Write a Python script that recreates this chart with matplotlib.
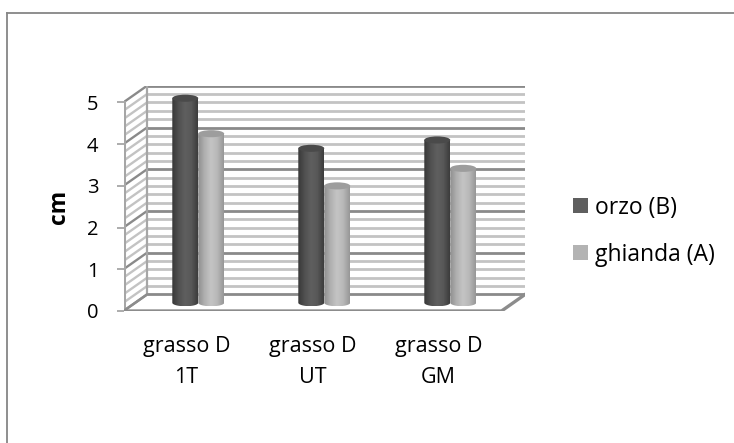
import numpy as np
import matplotlib
matplotlib.use("Agg")
import matplotlib.pyplot as plt
from matplotlib.colors import LinearSegmentedColormap
from matplotlib.patches import Polygon, Ellipse, Patch
from matplotlib.lines import Line2D

plt.rcParams['font.family'] = ['Open Sans', 'DejaVu Sans']

# dati
categorie = ['grasso D\n1T', 'grasso D\nUT', 'grasso D\nGM']
orzo = [4.9, 3.7, 3.9]
ghianda = [4.05, 2.8, 3.22]
serie = ['orzo (B)', 'ghianda (A)']

# profondita' della vista 3D (in unita' dei dati)
dx = 0.1864
dy = 0.3953
larg = 0.206      # larghezza cilindro
ry = 0.085        # semiasse verticale dell'ellisse

fig = plt.figure(figsize=(7.34, 4.43), dpi=100)
ax = fig.add_axes([0.16826, 0.29797, 0.5470, 0.50835])
ax.set_xlim(0, 3 + dx)
ax.set_ylim(0, 5 + dy)
for s in ax.spines.values():
    s.set_visible(False)

# griglia: parete di fondo e parete sinistra
valori = np.round(np.arange(0, 5.001, 0.2), 1)
for v in valori:
    maggiore = abs(v - round(v)) < 1e-6
    col = '#8a8a8a' if maggiore else '#c3c3c3'
    ax.plot([dx, 3 + dx], [v + dy, v + dy], color=col, lw=2.0,
            solid_capstyle='butt', zorder=1)
    ax.plot([0, dx], [v, v + dy], color=col, lw=1.7, zorder=1)

# bordi delle pareti e del pavimento
ax.plot([dx, dx], [dy, 5 + dy], color='#a6a6a6', lw=1.6, zorder=1)
ax.plot([0, 0], [0, 5], color='#a6a6a6', lw=2.2, zorder=2)
ax.plot([0, 3, 3 + dx], [0, 0, dy], color='#8c8c8c', lw=2.4,
        solid_joinstyle='miter', zorder=2)
ax.plot([0, dx], [0, dy], color='#8c8c8c', lw=1.8, zorder=2)


def cilindro(xc, h, colori, col_top, z):
    x0, x1 = xc - larg / 2, xc + larg / 2
    y0, y1 = dy / 2, h + dy / 2
    cmap = LinearSegmentedColormap.from_list('c', colori)
    grad = np.linspace(0, 1, 64).reshape(1, -1)
    im = ax.imshow(grad, extent=[x0, x1, y0 - ry, y1], aspect='auto',
                   cmap=cmap, interpolation='bilinear', zorder=z, origin='lower')
    t = np.linspace(np.pi, 2 * np.pi, 40)
    pts = [(x0, y1), (x0, y0)]
    pts += list(zip(xc + larg / 2 * np.cos(t), y0 + ry * np.sin(t)))
    pts += [(x1, y0), (x1, y1)]
    clip = Polygon(pts, closed=True, transform=ax.transData)
    im.set_clip_path(clip)
    ax.add_patch(Ellipse((xc, y1), larg, 2 * ry, facecolor=col_top,
                         edgecolor='none', zorder=z + 0.5))


scuro = ['#383838', '#505050', '#5f5f5f', '#585858', '#3c3c3c']
chiaro = ['#8f8f8f', '#b0b0b0', '#c4c4c4', '#b8b8b8', '#979797']
for i in range(len(categorie)):
    xc = i + 0.5 + dx / 2
    cilindro(xc - larg / 2, orzo[i], scuro, '#4a4a4a', 3 + i)
    cilindro(xc + larg / 2, ghianda[i], chiaro, '#9d9d9d', 3.2 + i)

ax.set_xlim(0, 3 + dx)
ax.set_ylim(0, 5 + dy)

# assi
ax.set_yticks(range(6))
ax.tick_params(axis='y', length=5, width=1.3, color='#a6a6a6', pad=13,
               labelsize=14.5, labelcolor='#000000')
ax.set_xticks([0.5, 1.5, 2.5])
ax.set_xticklabels(categorie, linespacing=1.6)
ax.tick_params(axis='x', length=0, pad=18, labelsize=15.5)
ax.set_ylabel('cm', fontsize=16.5, fontweight='bold')
ax.yaxis.set_label_coords(-0.13, 0.463)

# legenda
maniglie = [Patch(facecolor='#5f5f5f', edgecolor='none'),
            Patch(facecolor='#b3b3b3', edgecolor='none')]
fig.legend(maniglie, serie, loc='center left',
           bbox_to_anchor=(573 / 734, 1 - 231.4 / 443), frameon=False,
           fontsize=16.5, handlelength=0.64, handleheight=0.64,
           handletextpad=0.3, labelspacing=1.0, borderpad=0,
           borderaxespad=0)

# cornice del grafico
fig.add_artist(Line2D([7 / 734, 1], [1 - 13 / 443, 1 - 13 / 443],
                      color='#868686', lw=1.3))
fig.add_artist(Line2D([7 / 734, 7 / 734], [0, 1 - 13 / 443],
                      color='#868686', lw=1.3))

fig.savefig('out.png', dpi=100)
